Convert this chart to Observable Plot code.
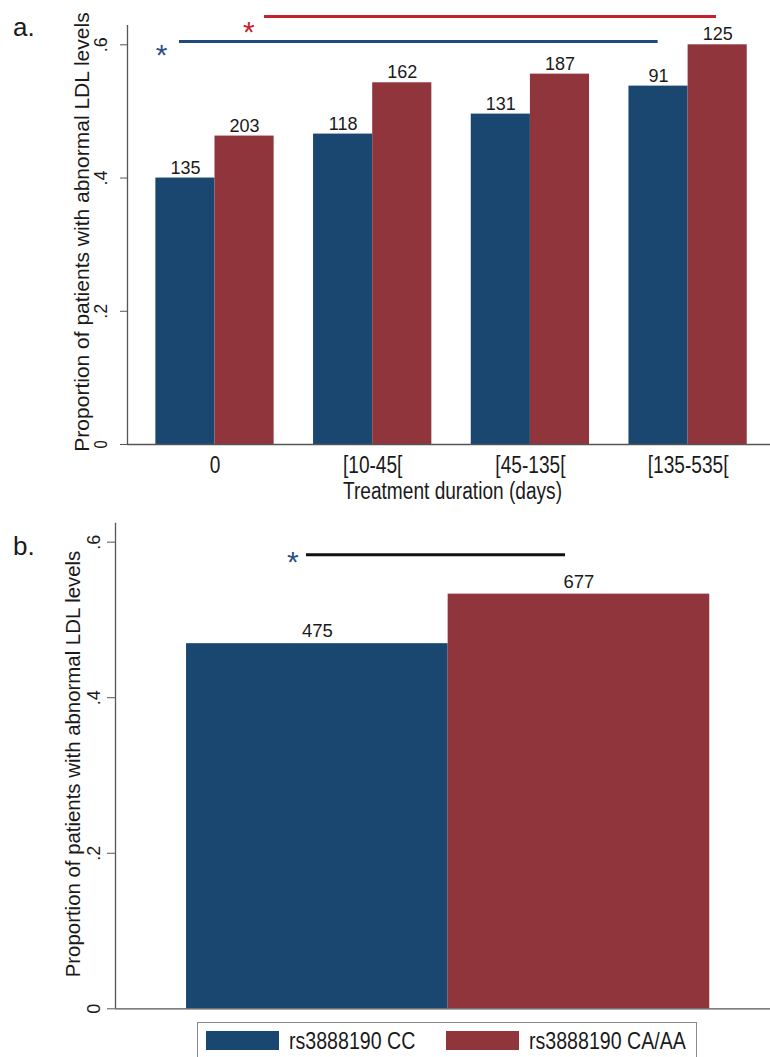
<!DOCTYPE html>
<html>
<head>
<meta charset="utf-8">
<script src="https://cdn.jsdelivr.net/npm/d3@7"></script>
<script src="https://cdn.jsdelivr.net/npm/@observablehq/plot@0.6"></script>
<style>
  html, body { margin: 0; padding: 0; background: #fff; overflow: hidden; }
  #fig { position: relative; width: 770px; height: 1057px; font-family: "Liberation Sans", Arial, sans-serif; color: #1a1a1a; }
  #fig svg { position: absolute; left: 0; overflow: visible; }
  .tag { position: absolute; font-size: 26px; line-height: 1; }
  .legend { position: absolute; left: 197px; top: 1022px; width: 500px; height: 48px; border: 1px solid #8a8a8a; box-sizing: border-box; }
  .legend .item { position: absolute; top: 8px; display: flex; align-items: center; height: 19px; }
  .legend .sw { width: 73px; height: 19px; margin-right: 10px; flex: none; }
  .legend span { display: inline-block; white-space: nowrap; font-size: 23.9px; transform: scaleX(0.82); transform-origin: left center; }
</style>
</head>
<body>
<div id="fig"></div>
<script>
// Treatment-duration classes (days) and genotype groups
const durations = ["0", "[10-45[", "[45-135[", "[135-535["];
const genotypes = ["rs3888190 CC", "rs3888190 CA/AA"];
const genotypeColors = ["#1a476f", "#90353b"];

// Panel a: proportion with abnormal LDL by duration class, and group sizes
const propCC = [0.400, 0.466, 0.496, 0.538];
const propCAAA = [0.463, 0.543, 0.556, 0.600];
const nCC = [135, 118, 131, 91];
const nCAAA = [203, 162, 187, 125];

// Panel b: overall proportion by genotype, and group sizes
const overallProp = [0.4695, 0.5332];
const overallN = [475, 677];

const yTicks = [0, 0.2, 0.4, 0.6];

// Significance brackets (x in bar-group units, y in proportion units)
const sigA = [
  {key: "CC", from: -0.225, to: 2.81, level: 0.605, starX: -0.339, starY: 0.596},
  {key: "CAAA", from: 0.314, to: 3.18, level: 0.6425, starX: 0.214, starY: 0.630}
];
const sigB = [
  {key: "overall", from: -0.0415, to: 0.9486, level: 0.5837, starX: -0.0938, starY: 0.584}
];
const sigLineColor = {CC: "#1f4a7b", CAAA: "#c3242c", overall: "#111111"};
const sigStarColor = {CC: "#2b5287", CAAA: "#c3242c", overall: "#2b5287"};

const xTitle = "Treatment duration (days)";
const yTitle = "Proportion of patients with abnormal LDL levels";

const fig = document.getElementById("fig");
const fmtTick = d => d === 0 ? "0" : String(d).replace(/^0/, "");
const axisGrey = "#555";
const ink = "#1a1a1a";
const half = 0.375;      // width of one bar in group-step units
const narrowK = 0.82;    // horizontal squeeze for the category labels and axis title
const labelSize = 23.3;

// Squeeze chosen horizontal labels about their own anchor point
function condense(svg, strings, k) {
  const wanted = new Set(strings);
  svg.querySelectorAll("text").forEach(t => {
    if (!wanted.has(t.textContent)) return;
    let tr = t.getAttribute("transform") || "";
    const x = t.getAttribute("x");
    if (x && !/em$/.test(x)) { tr += ` translate(${x},0)`; t.removeAttribute("x"); }
    t.setAttribute("transform", `${tr} scale(${k},1)`);
  });
}

const rowsA = durations.flatMap((d, i) => [
  {gi: i, side: 0, genotype: genotypes[0], prop: propCC[i], n: nCC[i]},
  {gi: i, side: 1, genotype: genotypes[1], prop: propCAAA[i], n: nCAAA[i]}
]);
const rowsB = genotypes.map((g, i) => ({gi: i, genotype: g, prop: overallProp[i], n: overallN[i]}));

function sigMarks(list, fs) {
  return list.flatMap(s => [
    Plot.ruleY([s], {y: "level", x1: "from", x2: "to", stroke: sigLineColor[s.key], strokeWidth: 3}),
    Plot.text([s], {x: "starX", y: "starY", text: () => "*", fontSize: fs, fill: sigStarColor[s.key], lineAnchor: "middle", dy: 0.265 * fs})
  ]);
}

// ---------- panel a ----------
const xDomA = [-0.5548, 3.5225];
const yTopA = 0.629;
const plotA = Plot.plot({
  width: 770, height: 505,
  marginTop: 25, marginBottom: 61, marginLeft: 127, marginRight: 0,
  style: {fontFamily: "Liberation Sans, Arial, sans-serif", color: ink, background: "transparent"},
  x: {type: "linear", domain: xDomA, axis: null},
  y: {domain: [0, yTopA], axis: null},
  color: {domain: genotypes, range: genotypeColors},
  marks: [
    Plot.rect(rowsA, {
      x1: r => r.gi - half + r.side * half,
      x2: r => r.gi + r.side * half,
      y1: () => 0, y2: "prop", fill: "genotype"
    }),
    Plot.text(rowsA, {
      x: r => r.gi - half / 2 + r.side * half, y: "prop", text: "n",
      lineAnchor: "bottom", dy: -4.5, fontSize: 18, fill: ink
    }),
    Plot.ruleX([xDomA[0]], {y1: 0, y2: yTopA, stroke: axisGrey, strokeWidth: 1.3}),
    Plot.ruleY([0], {stroke: axisGrey, strokeWidth: 1.3}),
    Plot.axisY(yTicks, {tickSize: 7, tickPadding: 14, tickRotate: -90, tickFormat: fmtTick, fontSize: 18, stroke: axisGrey, fill: ink, label: null}),
    Plot.axisX(durations.map((_, i) => i), {tickSize: 0, tickPadding: 12, tickFormat: i => durations[i], fontSize: labelSize, fill: ink, label: null}),
    Plot.text([xTitle], {frameAnchor: "bottom", textAnchor: "middle", lineAnchor: "top", dx: 3.5, dy: 38, fontSize: labelSize, fill: ink}),
    Plot.text([yTitle], {frameAnchor: "left", textAnchor: "middle", rotate: -90, lineAnchor: "bottom", dx: -39, dy: -3, fontSize: 21, fill: ink}),
    ...sigMarks(sigA, 30)
  ]
});
plotA.style.top = "0px";
fig.appendChild(plotA);
condense(plotA, [...durations, xTitle], narrowK);

// ---------- panel b ----------
const xDomB = [-0.7716, 1.7322];
const yTopB = 0.6244;
const plotB = Plot.plot({
  width: 770, height: 515,
  marginTop: 17.7, marginBottom: 11.7, marginLeft: 115, marginRight: 0,
  style: {fontFamily: "Liberation Sans, Arial, sans-serif", color: ink, background: "transparent"},
  x: {type: "linear", domain: xDomB, axis: null},
  y: {domain: [0, yTopB], axis: null},
  color: {domain: genotypes, range: genotypeColors},
  marks: [
    Plot.rect(rowsB, {x1: r => r.gi - 0.5, x2: r => r.gi + 0.5, y1: () => 0, y2: "prop", fill: "genotype"}),
    Plot.text(rowsB, {x: "gi", y: "prop", text: "n", lineAnchor: "bottom", dy: -6.5, fontSize: 18.5, fill: ink}),
    Plot.ruleX([xDomB[0]], {y1: 0, y2: yTopB, stroke: axisGrey, strokeWidth: 1.3}),
    Plot.ruleY([0], {stroke: axisGrey, strokeWidth: 1.3}),
    Plot.axisY(yTicks, {tickSize: 8, tickPadding: 8, tickRotate: -90, tickFormat: fmtTick, fontSize: 18, stroke: axisGrey, fill: ink, label: null}),
    Plot.text([yTitle], {frameAnchor: "left", textAnchor: "middle", rotate: -90, lineAnchor: "bottom", dx: -35.5, dy: -2, fontSize: 20.4, fill: ink}),
    ...sigMarks(sigB, 30)
  ]
});
plotB.style.top = "505px";
fig.appendChild(plotB);

// ---------- panel tags ----------
[["a.", 13, 14], ["b.", 13, 533]].forEach(([t, x, y]) => {
  const el = document.createElement("div");
  el.className = "tag";
  el.textContent = t;
  el.style.left = x + "px";
  el.style.top = y + "px";
  fig.appendChild(el);
});

// ---------- legend ----------
const legend = document.createElement("div");
legend.className = "legend";
const itemLeft = [8, 248];
genotypes.forEach((g, i) => {
  const item = document.createElement("div");
  item.className = "item";
  item.style.left = itemLeft[i] + "px";
  const sw = document.createElement("div");
  sw.className = "sw";
  sw.style.background = genotypeColors[i];
  const label = document.createElement("span");
  label.textContent = g;
  item.appendChild(sw);
  item.appendChild(label);
  legend.appendChild(item);
});
fig.appendChild(legend);
</script>
</body>
</html>
